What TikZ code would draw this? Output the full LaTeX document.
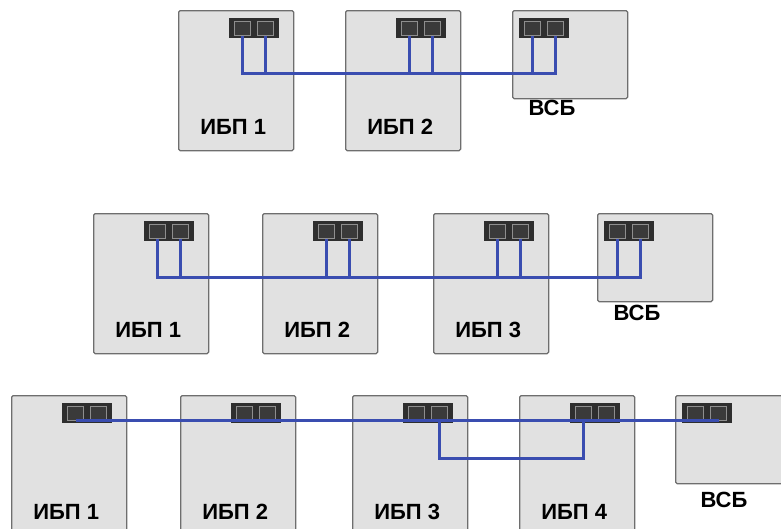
\documentclass[tikz,border=0pt]{standalone}
\usepackage{fontspec}
\setmainfont{Liberation Sans}
\usetikzlibrary{positioning}
\definecolor{boxfill}{HTML}{E1E1E1}
\definecolor{boxline}{HTML}{6E6E6E}
\definecolor{cablecol}{HTML}{3A4DB0}
\definecolor{blockcol}{HTML}{2E2E2E}
\definecolor{portcol}{HTML}{3A3A3A}
\definecolor{portline}{HTML}{8E8E8E}
\tikzset{
  ups/.style={draw=boxline, fill=boxfill, line width=1.3pt, rounded corners=1.5pt,
    minimum width=115pt, minimum height=140pt, anchor=north west, inner sep=0pt},
  vsb/.style={ups, minimum height=88pt},
  portblk/.style={fill=blockcol, minimum width=50pt, minimum height=20pt, inner sep=0pt},
  port/.style={draw=portline, fill=portcol, line width=0.8pt,
    minimum width=16pt, minimum height=14pt, inner sep=0pt},
  cable/.style={draw=cablecol, line width=3pt},
  tag/.style={font=\bfseries\fontsize{22}{22}\selectfont, inner sep=0pt}
}
\begin{document}
\begin{tikzpicture}[x=1pt, y=-1pt]
\path[use as bounding box] (0,0) rectangle (781,528);
\clip (0,0) rectangle (781,528);
%%%% UPS boxes with their port blocks and labels:
\foreach \n/\x/\y/\t in {11/178/10/1, 12/345/10/2,
    21/93/213/1, 22/262/213/2, 23/433/213/3,
    31/11/395/1, 32/180/395/2, 33/352/395/3, 34/519/395/4} {
  \node[ups] (u\n) at (\x,\y) {};
  \node[portblk, below left=8pt and 15pt of u\n.north east] (p\n) {};
  \node[port] (l\n) at ([xshift=-11.5pt]p\n.center) {};
  \node[port] (r\n) at ([xshift=11.5pt]p\n.center) {};
  \node[tag, below=109pt of u\n.north, xshift=-3pt] (t\n) {ИБП \t};
}
%%%% Battery cabinets:
\foreach \n/\x/\y in {1/512/10, 2/597/213, 3/675/395} {
  \node[vsb] (s\n) at (\x,\y) {};
  \node[portblk, below right=8pt and 7pt of s\n.north west] (q\n) {};
  \node[port] (sl\n) at ([xshift=-11.5pt]q\n.center) {};
  \node[port] (sr\n) at ([xshift=11.5pt]q\n.center) {};
}
\node[tag] (v1) at (552,108) {ВСБ};
\node[tag] (v2) at (637,313) {ВСБ};
\node[tag] (v3) at (724,500) {ВСБ};
%%%% Cables, row 1:
\coordinate (bus1) at (0,73);
\draw[cable] (l11.south) -- (l11.south |- bus1) -- (sr1.south |- bus1) -- (sr1.south);
\foreach \p in {r11, l12, r12, sl1}
  \draw[cable] (\p.south) -- (\p.south |- bus1);
%%%% Cables, row 2:
\coordinate (bus2) at (0,277);
\draw[cable] (l21.south) -- (l21.south |- bus2) -- (sr2.south |- bus2) -- (sr2.south);
\foreach \p in {r21, l22, r22, l23, r23, sl2}
  \draw[cable] (\p.south) -- (\p.south |- bus2);
%%%% Cables, row 3:
\coordinate (bus3) at (0,420);
\coordinate (loop3) at (0,458);
\draw[cable] (l31.center |- bus3) -- (sr3.center |- bus3);
\draw[cable] (r33.center |- bus3) -- (r33.center |- loop3) -- (l34.center |- loop3) -- (l34.center |- bus3);
\end{tikzpicture}
\end{document}
